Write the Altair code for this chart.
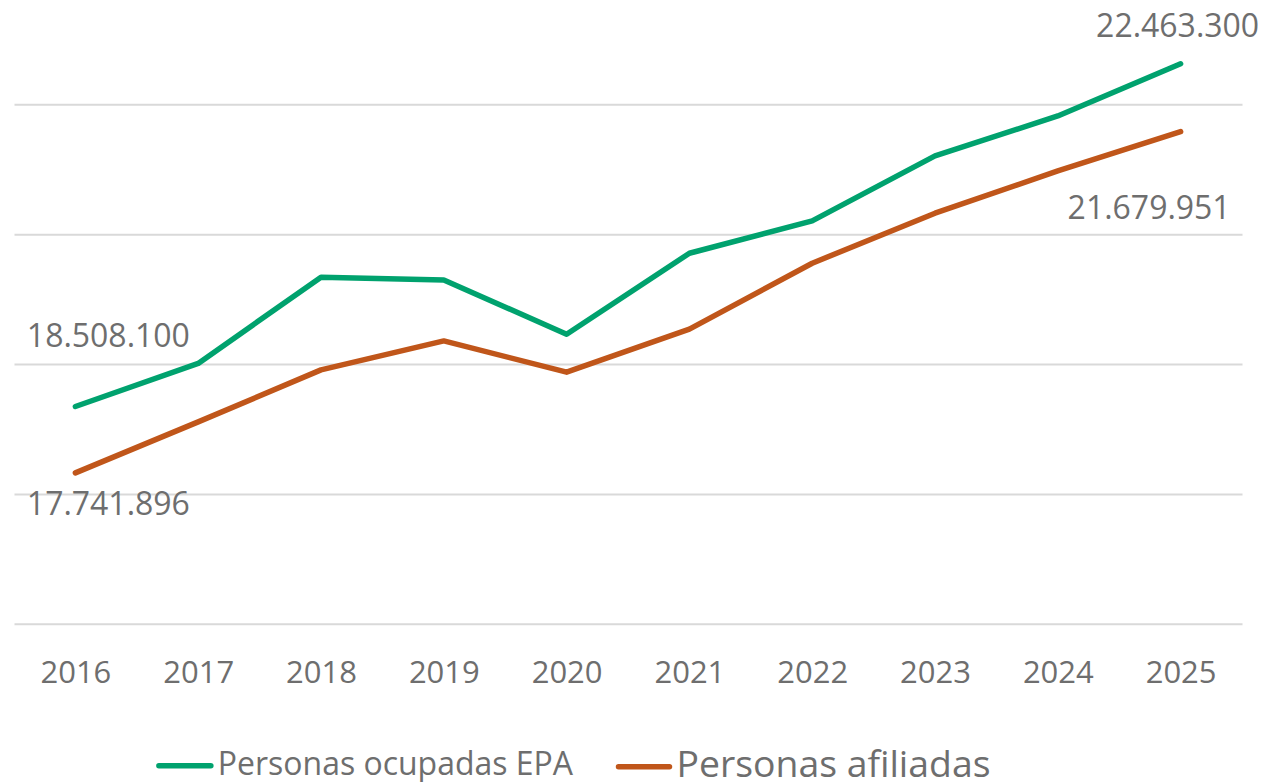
import altair as alt
import pandas as pd

years = ["2016", "2017", "2018", "2019", "2020", "2021", "2022", "2023", "2024", "2025"]
epa = [18508100, 19005800, 20000400, 19969000, 19342700, 20277000, 20650000, 21400000, 21861500, 22463300]
afiliadas = [17741896, 18330800, 18930800, 19265400, 18904200, 19400400, 20161900, 20738900, 21226900, 21679951]
series = ["Personas ocupadas EPA", "Personas afiliadas"]
colors = ["#00A26E", "#C0561A"]
grid_values = [16000000, 17500000, 19000000, 20500000, 22000000]

TEXT = "#6e6e6e"
FONT = "Open Sans"


def fmt(v):
    return f"{v:,}".replace(",", ".")


rows = []
for i, y in enumerate(years):
    rows.append({"year": y, "series": series[0], "value": epa[i], "label": fmt(epa[i])})
    rows.append({"year": y, "series": series[1], "value": afiliadas[i], "label": fmt(afiliadas[i])})
df = pd.DataFrame(rows)

x_enc = alt.X("year:O", title=None,
              scale=alt.Scale(type="point", padding=0.5),
              axis=alt.Axis(labelAngle=0, domain=False, ticks=False, tickSize=0, grid=False,
                            labelFontSize=31, labelColor=TEXT, labelFont=FONT, labelPadding=35))
y_enc = alt.Y("value:Q", title=None,
              scale=alt.Scale(domain=[16000000, 23000000], nice=False, zero=False),
              axis=alt.Axis(values=grid_values, labels=False, ticks=False, domain=False,
                            grid=True, gridColor="#d9d9d9", gridWidth=2))

base = alt.Chart(df).encode(x=x_enc, y=y_enc)

lines = base.mark_line(strokeWidth=5.5, strokeCap="round", strokeJoin="round").encode(
    color=alt.Color("series:N", scale=alt.Scale(domain=series, range=colors), legend=None),
    detail="series:N",
)


def label_layer(year, ser, dx, dy):
    return base.transform_filter(
        (alt.datum.year == year) & (alt.datum.series == ser)
    ).mark_text(fontSize=32, font=FONT, color=TEXT, align="center", baseline="alphabetic",
                dx=dx, dy=dy).encode(text="label:N")


labels = [
    label_layer("2016", series[0], 33, -60),
    label_layer("2016", series[1], 33, 42),
    label_layer("2025", series[0], -3, -27),
    label_layer("2025", series[1], -31.5, 87),
]

one = alt.Data(values=[{"k": 1}])
legend_layers = [
    alt.Chart(one).mark_rule(strokeWidth=5.5, strokeCap="round", color=colors[0]).encode(
        x=alt.value(145), x2=alt.value(197), y=alt.value(749)),
    alt.Chart(one).mark_text(fontSize=32, font=FONT, color=TEXT, align="left", baseline="alphabetic").encode(
        x=alt.value(204), y=alt.value(758), text=alt.value(series[0])),
    alt.Chart(one).mark_rule(strokeWidth=5.5, strokeCap="round", color=colors[1]).encode(
        x=alt.value(605), x2=alt.value(656), y=alt.value(750)),
    alt.Chart(one).mark_text(fontSize=37.4, font=FONT, color=TEXT, align="left", baseline="alphabetic").encode(
        x=alt.value(663), y=alt.value(760), text=alt.value(series[1])),
]

chart = alt.layer(lines, *labels, *legend_layers).properties(
    width=1229, height=607,
    autosize=alt.AutoSizeParams(type="none"),
    padding={"left": 6, "top": 9, "right": 16, "bottom": 158},
).configure(font=FONT, view=alt.ViewConfig(stroke=None))

chart.save("out.html", embed_options={"renderer": "svg", "actions": False})
